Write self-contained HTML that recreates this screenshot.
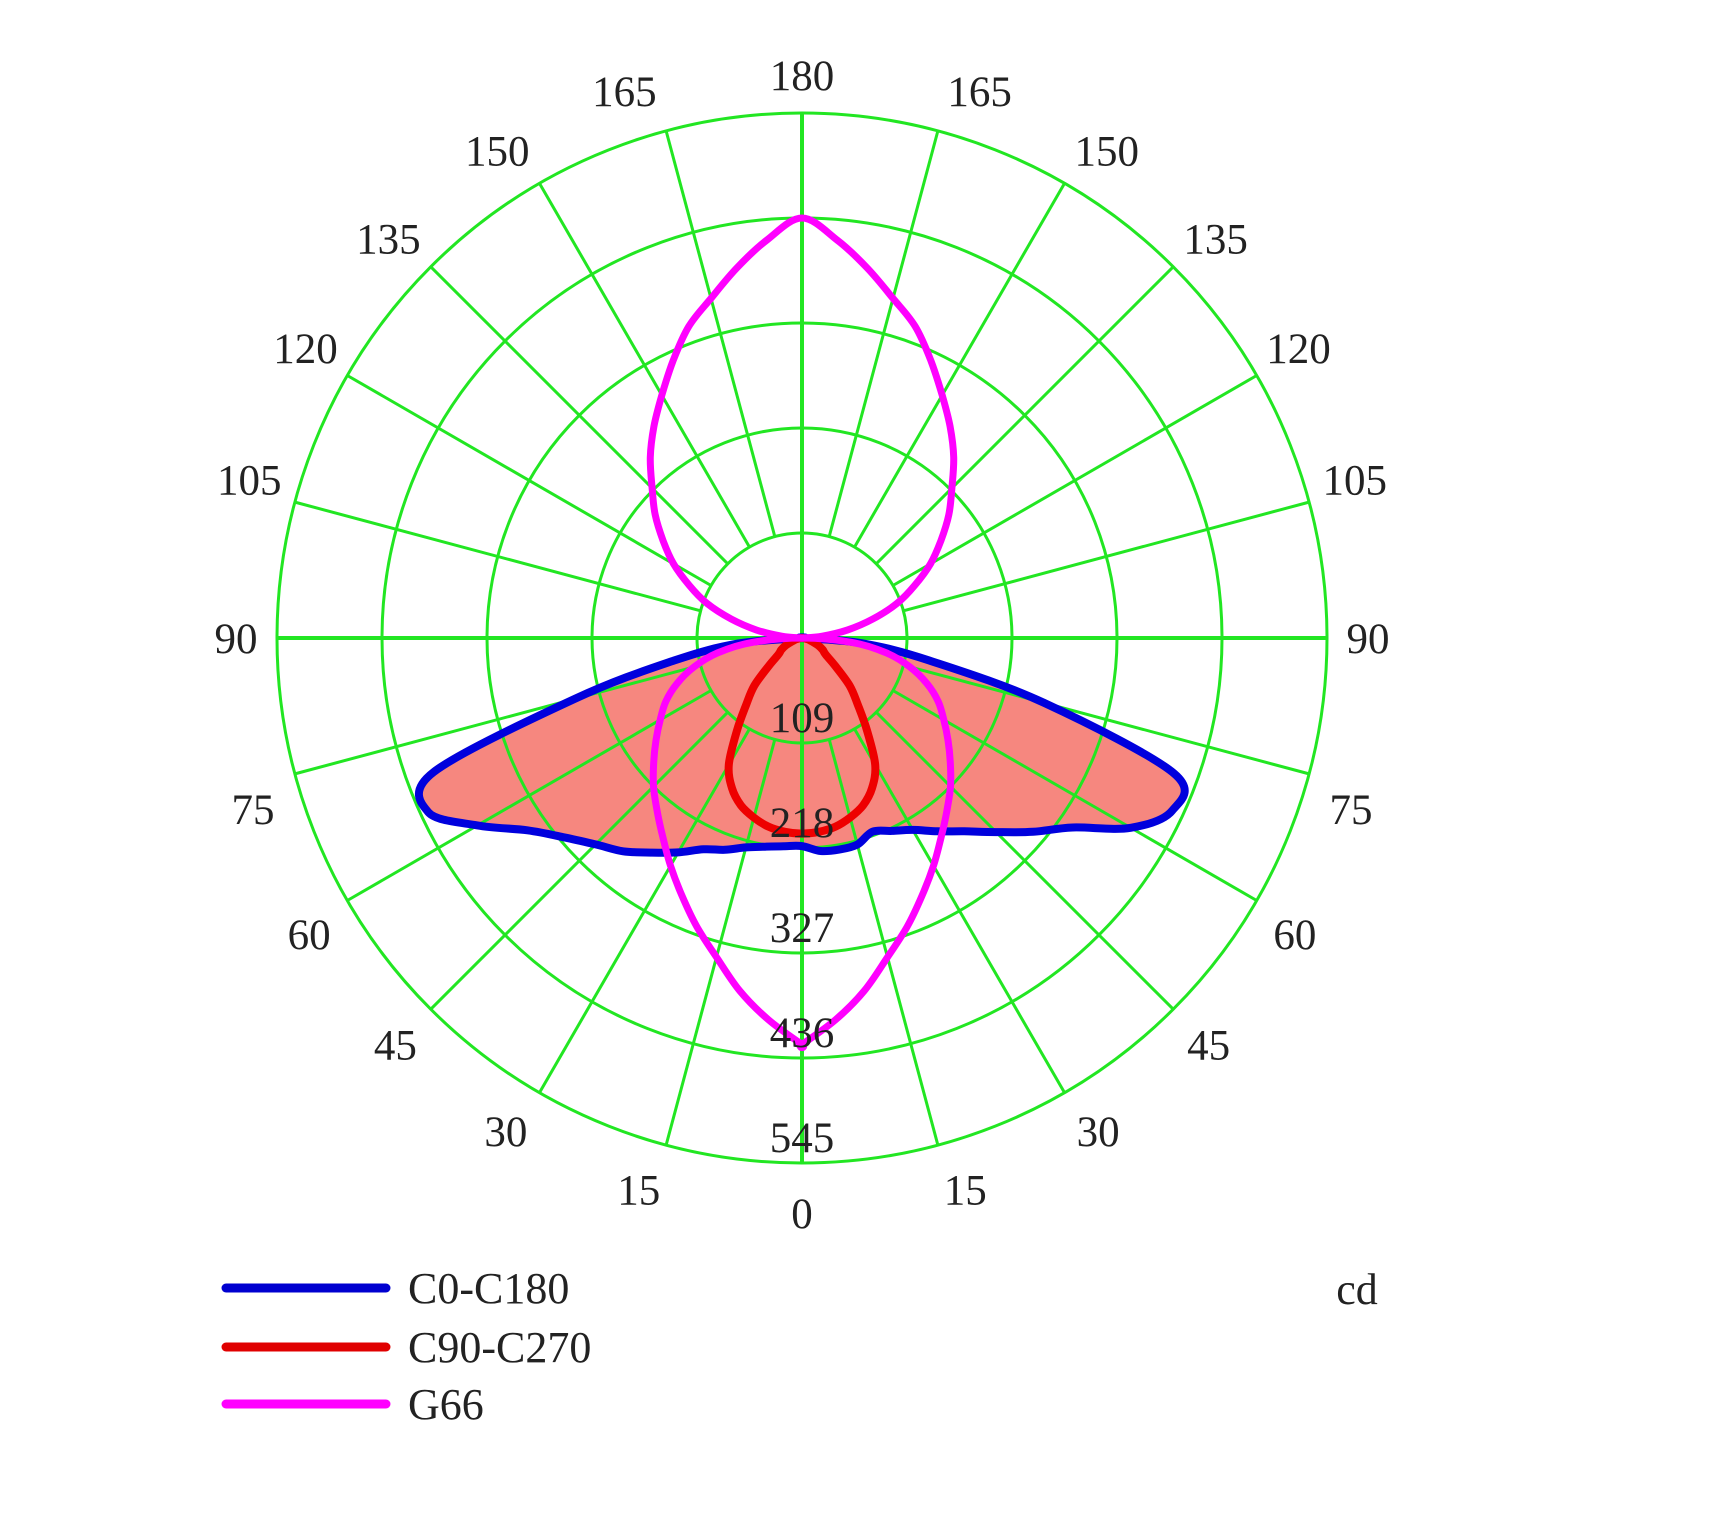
<!DOCTYPE html>
<html><head><meta charset="utf-8"><style>
html,body{margin:0;padding:0;background:#fff;}
svg{display:block;font-family:"Liberation Serif",serif;}
</style></head><body>
<svg id="chart" width="1714" height="1514" viewBox="0 0 1714 1514" xmlns="http://www.w3.org/2000/svg">
<rect width="1714" height="1514" fill="#fff"/>
<g id="fill"></g><g id="grid"></g><g id="curves"></g><g id="labels"></g>
<g>
 <g><line x1="226" y1="1288" x2="386" y2="1288" stroke="#0000d0" stroke-width="9" stroke-linecap="round"/><text x="408" y="1303" font-size="44" fill="#222">C0-C180</text></g>
 <g><line x1="226" y1="1347" x2="386" y2="1347" stroke="#e00000" stroke-width="9" stroke-linecap="round"/><text x="408" y="1362" font-size="44" fill="#222">C90-C270</text></g>
 <g><line x1="226" y1="1404" x2="386" y2="1404" stroke="#ff00ff" stroke-width="9" stroke-linecap="round"/><text x="408" y="1419" font-size="44" fill="#222">G66</text></g>
</g>
<text x="1357" y="1304" font-size="44" fill="#222" text-anchor="middle">cd</text>
</svg>
<script>
// angles 0..90 step 5 (gamma measured from nadir)
const gammaHalf = [0,5,10,15,20,25,30,35,40,45,50,55,60,65,70,75,80,85,90];
const c180Values = [216,217,220,225,234,242,257,272,289,303,322,348,389,428,407,244,135,67,0];
const c0Values = [220,222,223,222,214,221,230,245,262,285,313,343,394,424,411,260,134,62,0];
const c90Values = [203,202,199,193,185,172,152,118,90,70,45,30,25,19,12,8,4,2,0];
// G66: 0..180 step 5
const gammaFull = [0,5,10,15,20,25,30,35,40,45,50,55,60,65,70,75,80,85,90,95,100,105,110,115,120,125,130,135,140,145,150,155,160,165,170,175,180];
const g66Values = [422,398,372,343,319,295,273,252,234,218,201,185,170,156,138,116,89,52,0,21,48,76,105,129,154,176,199,220,245,268,291,317,344,365,390,415,436];
const ringLabels = ["109","218","327","436","545"];
const angleLabels = [0,15,30,45,60,75,90,105,120,135,150,165,180];
const maxVal = 545;

const NS="http://www.w3.org/2000/svg";
const cx=802, cy=638, R=525;
function rScale(v){return v/maxVal*R;}
function pt(g,v,side){const a=g*Math.PI/180, r=rScale(v);return [cx+side*r*Math.sin(a), cy+r*Math.cos(a)];}
function mk(tag,attrs,parent){const e=document.createElementNS(NS,tag);for(const k in attrs)e.setAttribute(k,attrs[k]);parent.appendChild(e);return e;}
function sidePts(angles,vals,side){return angles.map((g,i)=>pt(g,vals[i],side));}
// smooth closed path (Catmull-Rom)
function d(p){
  const n=p.length;let s='M'+p[0][0].toFixed(1)+' '+p[0][1].toFixed(1);
  for(let i=0;i<n;i++){
    const p0=p[(i-1+n)%n],p1=p[i],p2=p[(i+1)%n],p3=p[(i+2)%n];
    const c1=[p1[0]+(p2[0]-p0[0])/6,p1[1]+(p2[1]-p0[1])/6];
    const c2=[p2[0]-(p3[0]-p1[0])/6,p2[1]-(p3[1]-p1[1])/6];
    s+=' C'+c1[0].toFixed(1)+' '+c1[1].toFixed(1)+' '+c2[0].toFixed(1)+' '+c2[1].toFixed(1)+' '+p2[0].toFixed(1)+' '+p2[1].toFixed(1);
  }
  return s+' Z';
}
function dedupe(pts){return pts.filter((p,i)=>i===0||Math.hypot(p[0]-pts[i-1][0],p[1]-pts[i-1][1])>0.5);}

const leftB = sidePts(gammaHalf,c180Values,-1).reverse();
const rightB = sidePts(gammaHalf,c0Values,1).slice(1);
const blueD = d(dedupe(leftB.concat(rightB)));
const fillG=document.getElementById('fill');
const bf=mk('path',{d:blueD,fill:'#f6877f',stroke:'none'},fillG);



const grid=document.getElementById('grid');
for(let i=1;i<=5;i++){
  const c=mk('circle',{cx:cx,cy:cy,r:R*i/5,fill:'none',stroke:'#22e622','stroke-width':3},grid);
  
  
}
for(let g=0;g<360;g+=15){
  const a=g*Math.PI/180;
  const r0=(g%90===0)?0:R/5;
  const l=mk('line',{x1:cx+r0*Math.sin(a),y1:cy+r0*Math.cos(a),x2:cx+R*Math.sin(a),y2:cy+R*Math.cos(a),stroke:'#22e622','stroke-width':(g%90===0)?4:3},grid);
  
  
}

const cg=document.getElementById('curves');
const bl=mk('path',{d:blueD,fill:'none',stroke:'#0000dd','stroke-width':8,'stroke-linejoin':'round'},cg);



const redPts=dedupe(sidePts(gammaHalf,c90Values,-1).reverse().concat(sidePts(gammaHalf,c90Values,1).slice(1)));
const rl=mk('path',{d:d(redPts),fill:'none',stroke:'#ee0000','stroke-width':8,'stroke-linejoin':'round'},cg);



// G66 drawn as two lobes (lower and upper) meeting at the centre
const half=gammaFull.indexOf(90);
const lowA=gammaFull.slice(0,half+1), lowV=g66Values.slice(0,half+1);
const upA=gammaFull.slice(half), upV=g66Values.slice(half);
function lobe(A,V){return dedupe(sidePts(A,V,1).concat(sidePts(A,V,-1).reverse().slice(1)));}
function openPath(p){
  // Catmull-Rom without wrapping through centre: use closed path but cusp at centre is small
  return d(p);
}
const ml=mk('path',{d:openPath(lobe(lowA,lowV))+' '+openPath(lobe(upA,upV)),fill:'none',stroke:'#ff00ff','stroke-width':7,'stroke-linejoin':'round'},cg);



const lg=document.getElementById('labels');
ringLabels.forEach((t,i)=>{
  const e=mk('text',{x:cx,y:cy+R*(i+1)/5-11,'font-size':43,'text-anchor':'middle',fill:'#222'},lg);
  e.textContent=t;
  
  
});
const labelAdj={0:0,15:1.5,30:1,45:0,60:-1,75:-2.3,90:0,105:1,120:0.3,135:-1,150:-2,165:-3,180:0};
angleLabels.forEach(g=>{
  const sides=(g===0||g===180)?[1]:[-1,1];
  sides.forEach(s=>{
    const a=(g+labelAdj[g])*Math.PI/180, r=(g===180)?563:(g===90?566:575);
    const e=mk('text',{x:cx+s*r*Math.sin(a),y:cy+r*Math.cos(a)+15,'font-size':43,'text-anchor':'middle',fill:'#222'},lg);
    e.textContent=String(g);
    
    
  });
});
</script>
</body></html>
